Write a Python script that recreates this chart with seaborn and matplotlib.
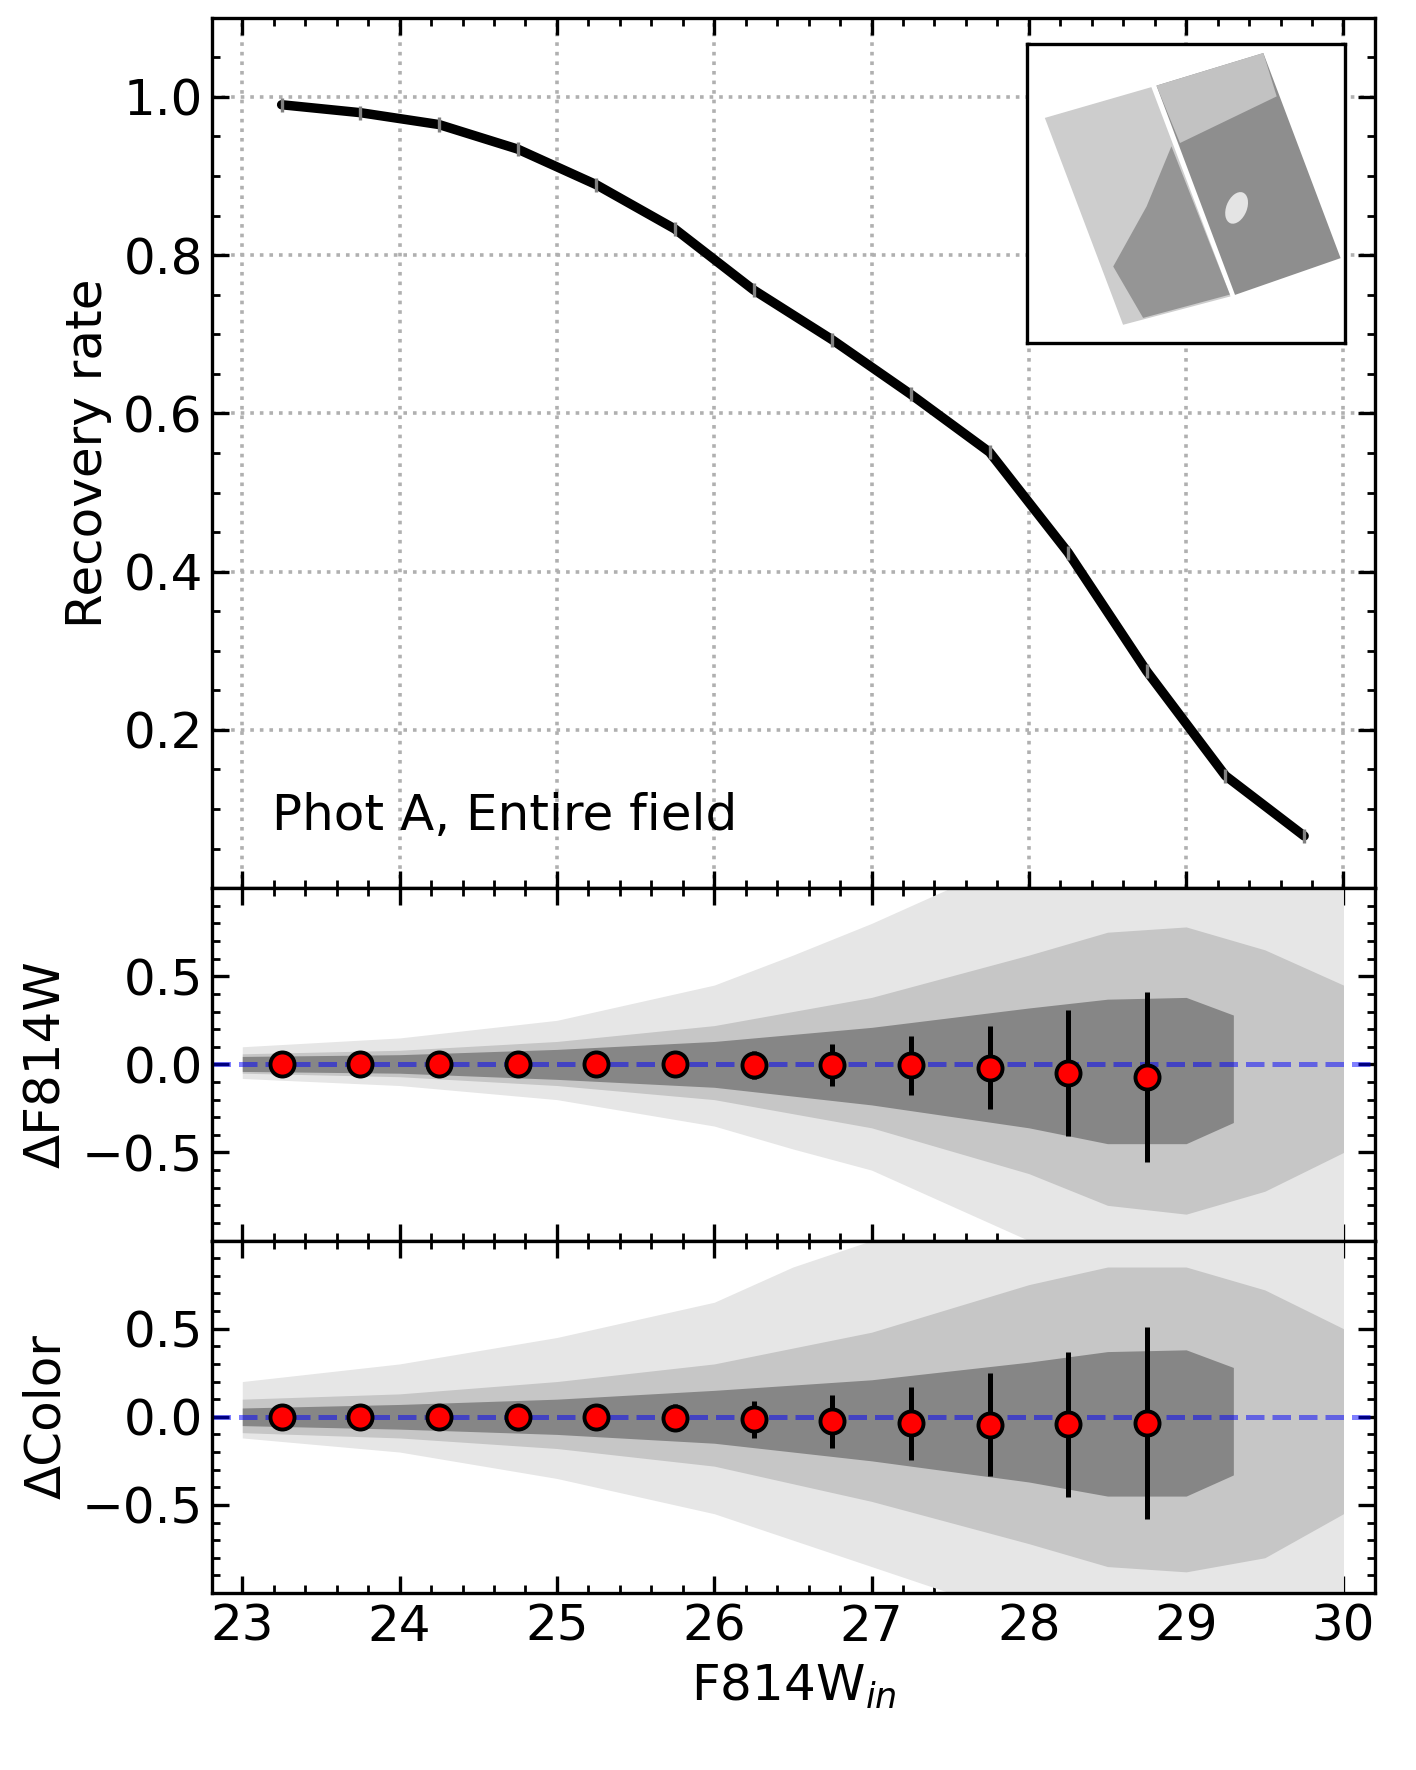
import matplotlib
matplotlib.use('Agg')
import matplotlib.pyplot as plt
from matplotlib.patches import Ellipse
from matplotlib.ticker import MultipleLocator
import numpy as np
import pandas as pd
import seaborn as sns

# recovery rate curve (top panel)
mag_bins = [23.25, 23.75, 24.25, 24.75, 25.25, 25.75, 26.25, 26.75, 27.25, 27.75, 28.25, 28.75, 29.25, 29.75]
recovery = [0.990, 0.980, 0.965, 0.934, 0.889, 0.833, 0.756, 0.693, 0.624, 0.551, 0.424, 0.274, 0.142, 0.066]
recovery_err = [0.009, 0.009, 0.009, 0.009, 0.009, 0.009, 0.009, 0.009, 0.009, 0.009, 0.009, 0.009, 0.009, 0.009]

# binned offsets (middle and bottom panels)
off_bins = [23.25, 23.75, 24.25, 24.75, 25.25, 25.75, 26.25, 26.75, 27.25, 27.75, 28.25, 28.75]
dmag = [0.0, 0.0, 0.0, 0.0, 0.0, 0.0, -0.003, -0.003, -0.006, -0.02, -0.048, -0.072]
dmag_err = [0.012, 0.015, 0.02, 0.025, 0.03, 0.05, 0.081, 0.117, 0.165, 0.236, 0.358, 0.483]
dcol = [0.0, 0.0, 0.0, 0.0, 0.0, -0.006, -0.013, -0.025, -0.038, -0.044, -0.042, -0.036]
dcol_err = [0.02, 0.025, 0.03, 0.04, 0.05, 0.077, 0.105, 0.15, 0.209, 0.294, 0.412, 0.545]

# envelopes of the star cloud
halo_x = [23.0, 24.0, 25.0, 26.0, 26.5, 27.0, 27.5, 28.0, 29.0, 30.0]
dmag_halo_hi = [0.10, 0.15, 0.25, 0.45, 0.62, 0.80, 1.0, 1.0, 1.0, 1.0]
dmag_halo_lo = [-0.08, -0.12, -0.20, -0.35, -0.48, -0.60, -0.80, -1.0, -1.0, -1.0]
dcol_halo_hi = [0.20, 0.30, 0.45, 0.65, 0.85, 1.0, 1.0, 1.0, 1.0, 1.0]
dcol_halo_lo = [-0.12, -0.20, -0.35, -0.55, -0.70, -0.85, -1.0, -1.0, -1.0, -1.0]

mid_x = [23.0, 24.0, 25.0, 26.0, 27.0, 28.0, 28.5, 29.0, 29.5, 30.0]
dmag_mid_hi = [0.06, 0.08, 0.13, 0.22, 0.38, 0.62, 0.75, 0.78, 0.65, 0.45]
dmag_mid_lo = [-0.05, -0.07, -0.12, -0.20, -0.36, -0.62, -0.80, -0.85, -0.72, -0.50]
dcol_mid_hi = [0.10, 0.13, 0.20, 0.30, 0.48, 0.75, 0.85, 0.85, 0.72, 0.50]
dcol_mid_lo = [-0.09, -0.12, -0.18, -0.28, -0.48, -0.72, -0.85, -0.88, -0.80, -0.55]

core_x = [23.0, 24.0, 25.0, 26.0, 27.0, 28.0, 28.5, 29.0, 29.3]
dmag_core_hi = [0.045, 0.055, 0.085, 0.13, 0.21, 0.32, 0.37, 0.38, 0.28]
dmag_core_lo = [-0.04, -0.05, -0.085, -0.13, -0.23, -0.36, -0.45, -0.45, -0.33]
dcol_core_hi = [0.05, 0.07, 0.10, 0.15, 0.21, 0.31, 0.37, 0.38, 0.28]
dcol_core_lo = [-0.05, -0.07, -0.10, -0.15, -0.25, -0.37, -0.45, -0.45, -0.33]

# inset field map (chip outlines in inset units)
chip1_x = [0.056, 0.391, 0.640, 0.302]
chip1_y = [0.753, 0.856, 0.156, 0.061]
chip2_x = [0.407, 0.743, 0.986, 0.654]
chip2_y = [0.861, 0.970, 0.284, 0.161]
dense1_x = [0.454, 0.638, 0.365, 0.271, 0.376]
dense1_y = [0.658, 0.162, 0.084, 0.256, 0.457]
sparse2_x = [0.407, 0.743, 0.785, 0.481]
sparse2_y = [0.861, 0.970, 0.825, 0.669]
hole_xy = (0.659, 0.452)

sns.set_style('ticks')
plt.rcParams['font.family'] = ['DejaVu Sans']
plt.rcParams['mathtext.fontset'] = 'dejavusans'
plt.rcParams['axes.linewidth'] = 1.2
plt.rcParams['axes.edgecolor'] = 'black'
plt.rcParams['text.color'] = 'black'
plt.rcParams['axes.labelcolor'] = 'black'
plt.rcParams['xtick.color'] = 'black'
plt.rcParams['ytick.color'] = 'black'

fig = plt.figure(figsize=(7.08, 8.85), dpi=200)
gs = fig.add_gridspec(3, 1, height_ratios=[2.47, 1, 1], hspace=0,
                      left=0.150, right=0.971, top=0.990, bottom=0.100)
ax1 = fig.add_subplot(gs[0])
ax2 = fig.add_subplot(gs[1], sharex=ax1)
ax3 = fig.add_subplot(gs[2], sharex=ax1)

fs = 18

# top panel
df_rec = pd.DataFrame({'mag': mag_bins, 'rate': recovery})
sns.lineplot(data=df_rec, x='mag', y='rate', ax=ax1, color='black', lw=3.4, zorder=3)
ax1.errorbar(mag_bins, recovery, yerr=recovery_err, fmt='none', ecolor='gray', elinewidth=1.2, zorder=4)
ax1.set_ylim(0, 1.1)
ax1.set_yticks([0.2, 0.4, 0.6, 0.8, 1.0])
ax1.yaxis.set_minor_locator(MultipleLocator(0.05))
ax1.grid(True, which='major', ls=':', color='#b0b0b0', lw=1.3)
ax1.set_ylabel('Recovery rate', fontsize=fs)
ax1.text(23.19, 0.073, 'Phot A, Entire field', fontsize=18, va='baseline', ha='left')


def offset_panel(ax, y, yerr, halo_hi, halo_lo, mid_hi, mid_lo, core_hi, core_lo, label):
    ax.fill_between(halo_x, halo_lo, halo_hi, color='#e6e6e6', lw=0, zorder=1)
    ax.fill_between(mid_x, mid_lo, mid_hi, color='#c6c6c6', lw=0, zorder=1)
    ax.fill_between(core_x, core_lo, core_hi, color='#868686', lw=0, zorder=1)
    ax.axhline(0, color='blue', alpha=0.5, ls='--', lw=1.8, zorder=2)
    ax.errorbar(off_bins, y, yerr=yerr, fmt='none', ecolor='black', elinewidth=1.8, zorder=3)
    df = pd.DataFrame({'mag': off_bins, 'off': y})
    sns.scatterplot(data=df, x='mag', y='off', ax=ax, color='red', edgecolor='black',
                    linewidth=1.4, s=75, zorder=4)
    ax.set_ylim(-1, 1)
    ax.set_yticks([-0.5, 0.0, 0.5])
    ax.yaxis.set_minor_locator(MultipleLocator(0.1))
    ax.set_ylabel(label, fontsize=fs)


offset_panel(ax2, dmag, dmag_err, dmag_halo_hi, dmag_halo_lo, dmag_mid_hi, dmag_mid_lo,
             dmag_core_hi, dmag_core_lo, 'ΔF814W')
offset_panel(ax3, dcol, dcol_err, dcol_halo_hi, dcol_halo_lo, dcol_mid_hi, dcol_mid_lo,
             dcol_core_hi, dcol_core_lo, 'ΔColor')

ax1.set_xlim(22.81, 30.2)
ax1.set_xticks(range(23, 31))
ax1.xaxis.set_minor_locator(MultipleLocator(0.2))
ax3.set_xlabel('F814W$_{in}$', fontsize=fs)
ax1.set_xlabel('')
ax2.set_xlabel('')

for ax in (ax1, ax2, ax3):
    ax.tick_params(which='both', direction='in', top=True, right=True, labelsize=fs, color='black')
    ax.tick_params(which='major', length=6, width=1.2)
    ax.tick_params(which='minor', length=3, width=1.0)
    for sp in ax.spines.values():
        sp.set_linewidth(1.2)
        sp.set_color('black')
plt.setp(ax1.get_xticklabels(), visible=False)
plt.setp(ax2.get_xticklabels(), visible=False)

# inset with the field map
axin = fig.add_axes([0.7253, 0.8062, 0.2246, 0.1689])
axin.fill(chip1_x, chip1_y, color='#cdcdcd', lw=0)
axin.fill(dense1_x, dense1_y, color='#959595', lw=0)
axin.fill(chip2_x, chip2_y, color='#8e8e8e', lw=0)
axin.fill(sparse2_x, sparse2_y, color='#c2c2c2', lw=0)
axin.add_patch(Ellipse(hole_xy, 0.065, 0.11, angle=-20, color='#e4e4e4', lw=0))
axin.set_xlim(0, 1)
axin.set_ylim(0, 1)
axin.set_xticks([])
axin.set_yticks([])
for sp in axin.spines.values():
    sp.set_linewidth(1.2)
    sp.set_color('black')

fig.savefig('out.png', dpi=200)
